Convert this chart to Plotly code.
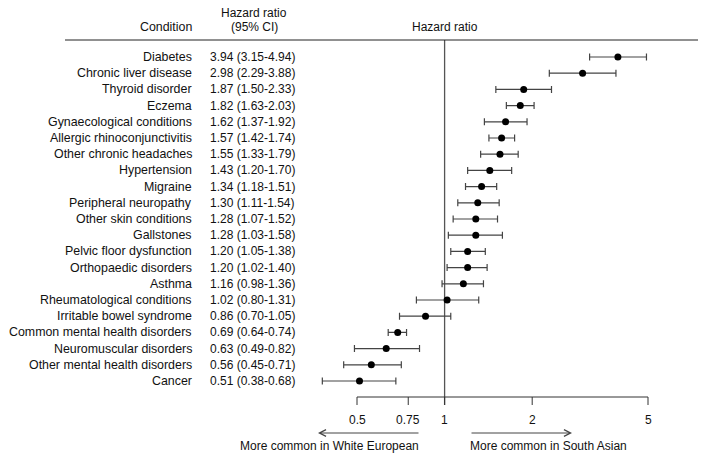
import numpy as np
import plotly.graph_objects as go

conditions = ["Diabetes", "Chronic liver disease", "Thyroid disorder", "Eczema",
              "Gynaecological conditions", "Allergic rhinoconjunctivitis", "Other chronic headaches",
              "Hypertension", "Migraine", "Peripheral neuropathy", "Other skin conditions",
              "Gallstones", "Pelvic floor dysfunction", "Orthopaedic disorders", "Asthma",
              "Rheumatological conditions", "Irritable bowel syndrome", "Common mental health disorders",
              "Neuromuscular disorders", "Other mental health disorders", "Cancer"]
hr = [3.94, 2.98, 1.87, 1.82, 1.62, 1.57, 1.55, 1.43, 1.34, 1.30, 1.28, 1.28, 1.20, 1.20,
      1.16, 1.02, 0.86, 0.69, 0.63, 0.56, 0.51]
lo = [3.15, 2.29, 1.50, 1.63, 1.37, 1.42, 1.33, 1.20, 1.18, 1.11, 1.07, 1.03, 1.05, 1.02,
      0.98, 0.80, 0.70, 0.64, 0.49, 0.45, 0.38]
hi = [4.94, 3.88, 2.33, 2.03, 1.92, 1.74, 1.79, 1.70, 1.51, 1.54, 1.52, 1.58, 1.38, 1.40,
      1.36, 1.31, 1.05, 0.74, 0.82, 0.71, 0.68]
tick_vals = [0.5, 0.75, 1, 2, 5]
tick_text = ["0.5", "0.75", "1", "2", "5"]

W, H = 706, 460
FONT = "Arial, Liberation Sans, sans-serif"
rows = list(range(len(conditions)))

# pixel geometry helpers (layout only)
row0_px, row_step = 57.0, 16.2
def yi(p):
    return (p - row0_px) / row_step

px_per_dec = 291.0
x_at_half = 357.0
xl = np.log10(0.5) - x_at_half / px_per_dec
xr = xl + W / px_per_dec
def lx(p):
    return xl + p / px_per_dec

fig = go.Figure()

# reference line at HR = 1
fig.add_trace(go.Scatter(x=[1, 1], y=[yi(40), yi(405)], mode="lines",
                         line=dict(color="#555555", width=1.3), hoverinfo="skip", showlegend=False))

# axis line and ticks
axis_y = yi(397)
fig.add_trace(go.Scatter(x=[tick_vals[0], tick_vals[-1]], y=[axis_y, axis_y], mode="lines",
                         line=dict(color="#333333", width=1), hoverinfo="skip", showlegend=False))
for tv, tt in zip(tick_vals, tick_text):
    fig.add_trace(go.Scatter(x=[tv, tv], y=[axis_y, yi(405)], mode="lines",
                             line=dict(color="#333333", width=1), hoverinfo="skip", showlegend=False))
    fig.add_annotation(x=np.log10(tv), y=yi(420), text=tt, showarrow=False,
                       xref="x", yref="y", font=dict(family=FONT, size=12, color="#111"))

# estimates with CI
fig.add_trace(go.Scatter(
    x=hr, y=rows, mode="markers",
    marker=dict(color="black", size=7),
    error_x=dict(type="data", symmetric=False,
                 array=[h - m for h, m in zip(hi, hr)],
                 arrayminus=[m - l for m, l in zip(hr, lo)],
                 color="#444444", thickness=1.2, width=3.5),
    showlegend=False))

# table text
for i, (c, m, l, h) in enumerate(zip(conditions, hr, lo, hi)):
    fig.add_annotation(x=194 / W, y=i, xref="paper", yref="y", text=c, showarrow=False,
                       xanchor="right", font=dict(family=FONT, size=12.4, color="#111"))
    fig.add_annotation(x=208 / W, y=i, xref="paper", yref="y",
                       text=f"{m:.2f} ({l:.2f}-{h:.2f})", showarrow=False,
                       xanchor="left", font=dict(family=FONT, size=12, color="#111"))

# headers
hf = dict(family=FONT, size=12, color="#111")
fig.add_annotation(x=194 / W, y=yi(27), xref="paper", yref="y", text="Condition",
                   showarrow=False, xanchor="right", font=dict(family=FONT, size=12.4, color="#111"))
fig.add_annotation(x=254 / W, y=yi(13), xref="paper", yref="y", text="Hazard ratio",
                   showarrow=False, xanchor="center", font=hf)
fig.add_annotation(x=254 / W, y=yi(27), xref="paper", yref="y", text="(95% CI)",
                   showarrow=False, xanchor="center", font=hf)
fig.add_annotation(x=445 / W, y=yi(27), xref="paper", yref="y", text="Hazard ratio",
                   showarrow=False, xanchor="center", font=hf)
fig.add_shape(type="line", xref="paper", yref="y", x0=65 / W, x1=698 / W,
              y0=yi(40), y1=yi(40), line=dict(color="#222222", width=1))

# direction arrows
ay = yi(433)
fig.add_annotation(x=lx(318), y=ay, ax=lx(420), ay=ay, xref="x", yref="y", axref="x", ayref="y",
                   text="", showarrow=True, arrowhead=5, arrowsize=1.3, arrowwidth=1,
                   arrowcolor="#444444")
fig.add_annotation(x=lx(572), y=ay, ax=lx(470), ay=ay, xref="x", yref="y", axref="x", ayref="y",
                   text="", showarrow=True, arrowhead=5, arrowsize=1.3, arrowwidth=1,
                   arrowcolor="#444444")
fig.add_annotation(x=lx(421), y=yi(446), xref="x", yref="y", text="More common in White European",
                   showarrow=False, xanchor="right", font=hf)
fig.add_annotation(x=lx(468), y=yi(446), xref="x", yref="y", text="More common in South Asian",
                   showarrow=False, xanchor="left", font=hf)

fig.update_layout(
    width=W, height=H, margin=dict(l=0, r=0, t=0, b=0),
    plot_bgcolor="white", paper_bgcolor="white",
    xaxis=dict(type="log", range=[xl, xr], visible=False, domain=[0, 1]),
    yaxis=dict(range=[yi(H), yi(0)], visible=False, domain=[0, 1]),
)

fig.write_html("out.html")
